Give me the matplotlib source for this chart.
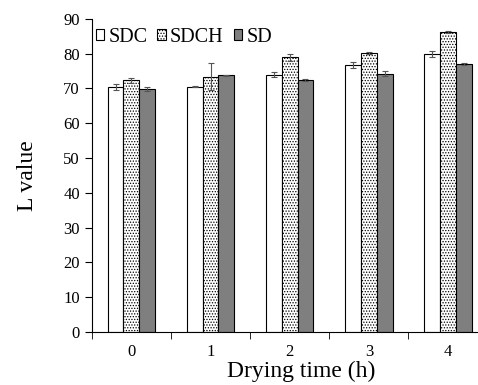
import matplotlib.pyplot as plt
import numpy as np

plt.rcParams['font.family'] = ['Liberation Serif', 'DejaVu Serif']
plt.rcParams['hatch.linewidth'] = 0.6

times = ["0", "1", "2", "3", "4"]
sdc = [70.4, 70.5, 74.0, 76.7, 79.9]
sdc_err = [0.8, 0.1, 0.6, 0.8, 1.0]
sdch = [72.3, 73.4, 79.0, 80.2, 86.2]
sdch_err = [0.6, 3.9, 1.0, 0.2, 0.3]
sd = [69.8, 73.8, 72.4, 74.2, 77.0]
sd_err = [0.6, 0.1, 0.2, 0.7, 0.2]

fig = plt.figure(figsize=(4.78, 3.85), dpi=100)
# the plot area runs past the right edge of the figure, as in the original
ax = fig.add_axes([0.192, 0.138, 0.828, 0.813])

x = np.arange(len(times))
width = 0.2
err_kw = dict(ecolor='#555555', elinewidth=0.8, capsize=2.5, capthick=0.8)

ax.bar(x - width, sdc, width, yerr=sdc_err, color='white', edgecolor='black',
       linewidth=0.8, label='SDC', error_kw=err_kw)
ax.bar(x, sdch, width, yerr=sdch_err, color='white', edgecolor='black',
       linewidth=0.8, hatch='......', label='SDCH', error_kw=err_kw)
ax.bar(x + width, sd, width, yerr=sd_err, color='#7f7f7f', edgecolor='black',
       linewidth=0.8, label='SD', error_kw=err_kw)

ax.set_xlim(-0.5, len(times) - 0.5)
ax.set_ylim(0, 90)
ax.set_yticks(np.arange(0, 91, 10))
ax.set_xticks(x)
ax.set_xticklabels(times, fontsize=12)
ax.set_xticks(np.arange(-0.5, len(times), 1), minor=True)
ax.tick_params(axis='x', which='major', length=0, pad=9)
ax.tick_params(axis='x', which='minor', length=5, direction='out')
ax.tick_params(axis='y', length=5, direction='out', labelsize=12)

ax.spines['top'].set_visible(False)
ax.spines['right'].set_visible(False)

ax.set_ylabel("L value", fontsize=17, labelpad=18)
ax.set_xlabel("Drying time (h)", fontsize=17, labelpad=0)
ax.xaxis.label.set_x(0.53)

ax.legend(loc='upper left', ncol=3, frameon=False, fontsize=14.5,
          handlelength=0.42, handleheight=0.42, handletextpad=0.2,
          columnspacing=0.5, borderpad=0.1, borderaxespad=0.1,
          bbox_to_anchor=(0.0, 0.985))

plt.savefig("out.png", dpi=100)
